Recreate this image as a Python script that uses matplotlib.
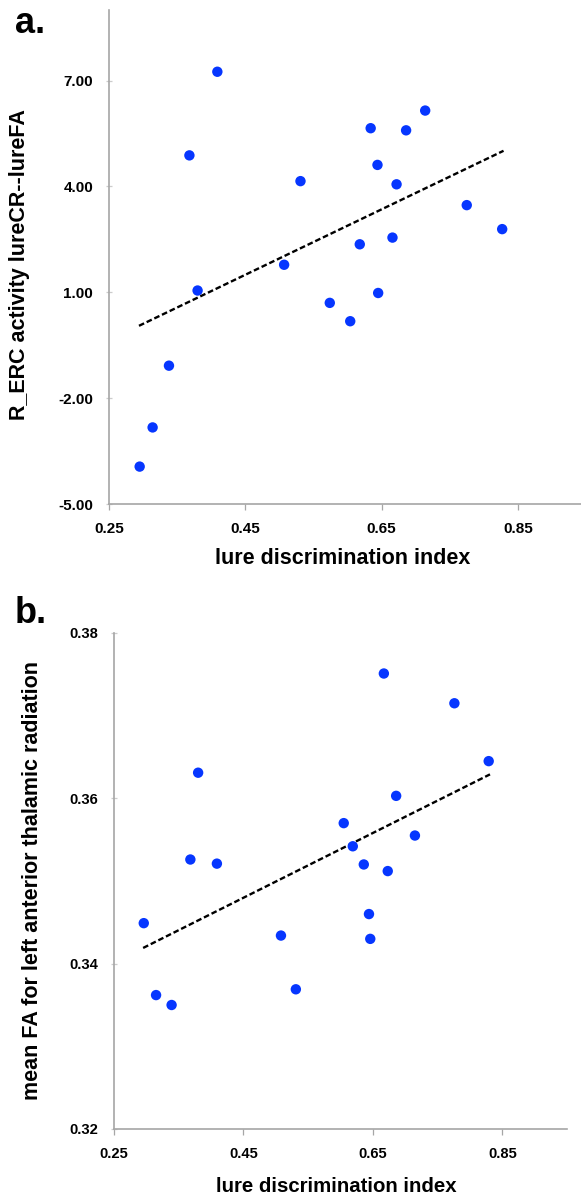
import matplotlib

matplotlib.use("Agg")
import matplotlib.pyplot as plt
from matplotlib.ticker import FormatStrFormatter

# panel a: right ERC activity (lureCR - lureFA) vs lure discrimination
lure_a = [0.409, 0.368, 0.531, 0.634, 0.686, 0.714, 0.644, 0.672, 0.775, 0.827,
          0.666, 0.618, 0.507, 0.380, 0.645, 0.574, 0.604, 0.338, 0.314, 0.295]
erc_a = [7.25, 4.88, 4.15, 5.65, 5.59, 6.15, 4.61, 4.06, 3.47, 2.79,
         2.55, 2.36, 1.78, 1.05, 0.98, 0.70, 0.18, -1.08, -2.83, -3.94]
trend_a_x = [0.294, 0.829]
trend_a_y = [0.05, 5.01]

# panel b: mean FA, left anterior thalamic radiation
lure_b = [0.667, 0.776, 0.829, 0.380, 0.686, 0.605, 0.715, 0.619, 0.368, 0.409,
          0.636, 0.673, 0.296, 0.644, 0.508, 0.646, 0.531, 0.315, 0.339]
fa_b = [0.3751, 0.3715, 0.3645, 0.3631, 0.3603, 0.3570, 0.3555, 0.3542, 0.3526, 0.3521,
        0.3520, 0.3512, 0.3449, 0.3460, 0.3434, 0.3430, 0.3369, 0.3362, 0.3350]
trend_b_x = [0.295, 0.831]
trend_b_y = [0.3419, 0.3629]

xticks = [0.25, 0.45, 0.65, 0.85]
yticks_a = [-5, -2, 1, 4, 7]
yticks_b = [0.32, 0.34, 0.36, 0.38]

dot_color = "#0636ff"
spine_color = "#a6a6a6"

plt.rcParams["font.family"] = ["Liberation Sans", "DejaVu Sans"]
plt.rcParams["font.weight"] = "bold"

W, H = 581, 1197
fig = plt.figure(figsize=(W / 100, H / 100), dpi=100)

ax_a = fig.add_axes([109 / W, (H - 504) / H, (586 - 109) / W, (504 - 10) / H])
ax_b = fig.add_axes([114 / W, (H - 1129) / H, (567 - 114) / W, (1129 - 633) / H])


def style(ax, tick_size):
    for side in ("top", "right"):
        ax.spines[side].set_visible(False)
    for side in ("left", "bottom"):
        ax.spines[side].set_color(spine_color)
        ax.spines[side].set_linewidth(1.2)
    ax.tick_params(axis="x", direction="out", length=4, width=0.9, color=spine_color,
                   pad=9, labelsize=tick_size)
    ax.tick_params(axis="y", direction="inout", length=5, width=0.9, color="#cccccc",
                   pad=9, labelsize=tick_size)
    for lab in ax.get_xticklabels() + ax.get_yticklabels():
        lab.set_fontweight("bold")


ax_a.scatter(lure_a, erc_a, s=56, color=dot_color, edgecolors="none", zorder=3)
ax_a.plot(trend_a_x, trend_a_y, color="black", linewidth=1.7, dashes=(2.4, 1.2), zorder=2)
ax_a.set_xlim(0.25, 0.95)
ax_a.set_ylim(-5, 9)
ax_a.set_xticks(xticks)
ax_a.set_yticks(yticks_a)
ax_a.xaxis.set_major_formatter(FormatStrFormatter("%.2f"))
ax_a.yaxis.set_major_formatter(FormatStrFormatter("%.2f"))
style(ax_a, 11)
ax_a.set_xlabel("lure discrimination index", fontsize=15.5, fontweight="bold", va="center")
ax_a.xaxis.set_label_coords(0.4895, -0.111)
ax_a.set_ylabel("R_ERC activity lureCR--lureFA", fontsize=15.5, fontweight="bold", va="center")
ax_a.yaxis.set_label_coords(-0.1886, 0.4838)

ax_b.scatter(lure_b, fa_b, s=56, color=dot_color, edgecolors="none", zorder=3)
ax_b.plot(trend_b_x, trend_b_y, color="black", linewidth=1.7, dashes=(2.4, 1.2), zorder=2)
ax_b.set_xlim(0.25, 0.95)
ax_b.set_ylim(0.32, 0.38)
ax_b.set_xticks(xticks)
ax_b.set_yticks(yticks_b)
ax_b.xaxis.set_major_formatter(FormatStrFormatter("%.2f"))
ax_b.yaxis.set_major_formatter(FormatStrFormatter("%.2f"))
style(ax_b, 10.6)
ax_b.set_xlabel("lure discrimination index", fontsize=14.7, fontweight="bold", va="center")
ax_b.xaxis.set_label_coords(0.491, -0.115)
ax_b.set_ylabel("mean FA for left anterior thalamic radiation", fontsize=15.5,
                fontweight="bold", va="center")
ax_b.yaxis.set_label_coords(-0.181, 0.5)

fig.text(15 / W, 1 - 33 / H, "a.", fontsize=26, fontweight="bold", va="baseline", ha="left")
fig.text(15 / W, 1 - 623 / H, "b.", fontsize=26, fontweight="bold", va="baseline", ha="left")

fig.savefig("out.png", dpi=100)
